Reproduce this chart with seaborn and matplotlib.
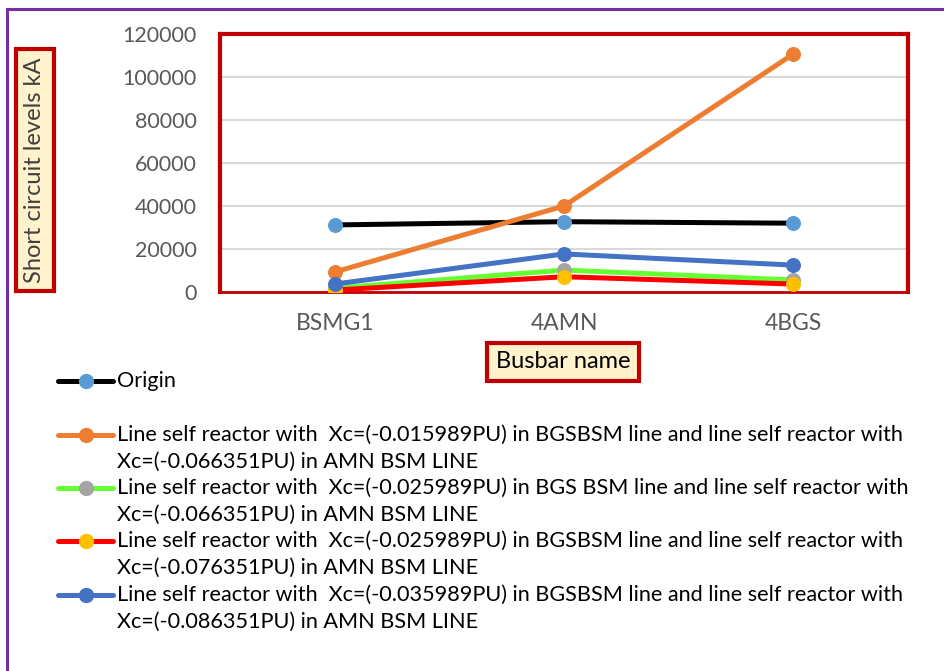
import numpy as np
import pandas as pd
import matplotlib
matplotlib.use("Agg")
import matplotlib.pyplot as plt
from matplotlib.lines import Line2D
from matplotlib.patches import Rectangle
import seaborn as sns

# ---- data -------------------------------------------------------------
busbars = ["BSMG1", "4AMN", "4BGS"]

origin = [31200, 32700, 32000]
case_1 = [9300, 40000, 110700]
case_2 = [1800, 10200, 5600]
case_3 = [900, 7100, 3700]
case_4 = [3700, 17700, 12500]

labels = [
    ["Origin"],
    ["Line self reactor with  Xc=(-0.015989PU) in BGSBSM line and line self reactor with",
     "Xc=(-0.066351PU) in AMN BSM LINE"],
    ["Line self reactor with  Xc=(-0.025989PU) in BGS BSM line and line self reactor with",
     "Xc=(-0.066351PU) in AMN BSM LINE"],
    ["Line self reactor with  Xc=(-0.025989PU) in BGSBSM line and line self reactor with",
     "Xc=(-0.076351PU) in AMN BSM LINE"],
    ["Line self reactor with  Xc=(-0.035989PU) in BGSBSM line and line self reactor with",
     "Xc=(-0.086351PU) in AMN BSM LINE"],
]
series = [origin, case_1, case_2, case_3, case_4]

line_colors = ["#000000", "#ED7D31", "#66FF33", "#FF0000", "#4472C4"]
marker_colors = ["#5B9BD5", "#ED7D31", "#A5A5A5", "#FFC000", "#4472C4"]

# ---- figure -----------------------------------------------------------
sns.set_style("white")
plt.rcParams["font.family"] = ["Lato", "DejaVu Sans"]

W, H = 944, 671
fig = plt.figure(figsize=(W / 100, H / 100), dpi=100)
ax = fig.add_axes([220 / W, 1 - 292 / H, 688 / W, 258 / H])

for i, vals in enumerate(series):
    df = pd.DataFrame({"busbar": busbars, "value": vals})
    sns.lineplot(data=df, x="busbar", y="value", ax=ax, sort=False,
                 color=line_colors[i], linewidth=3.6, marker="o",
                 markersize=10, markerfacecolor=marker_colors[i],
                 markeredgecolor=marker_colors[i], zorder=3 + i)

ax.set_xlim(-0.5, 2.5)
ax.set_ylim(0, 120000)
ax.set_yticks(np.arange(0, 120001, 20000))
ax.grid(axis="y", color="#D9D9D9", linewidth=1.5)
ax.set_axisbelow(True)
ax.tick_params(axis="both", length=0, labelcolor="#595959")
ax.tick_params(axis="y", pad=17, labelsize=15.5)
ax.tick_params(axis="x", pad=15, labelsize=16.5)
for side, sp in ax.spines.items():
    sp.set_color("#C00000")
    sp.set_linewidth(3)
    sp.set_visible(True)
ax.spines["bottom"].set_linewidth(2)

box = dict(boxstyle="square,pad=0.35", facecolor="#FFF2CC",
           edgecolor="#C00000", linewidth=3)
ax.set_xlabel("")
ax.set_ylabel("")
fig.text(35 / W, 1 - 170 / H, "Short circuit levels kA", rotation=90,
         ha="center", va="center", fontsize=17, color="#404040", bbox=box)
fig.text(563 / W, 1 - 362 / H, "Busbar name", ha="center", va="center",
         fontsize=17, color="#000000", bbox=box)

# ---- legend (drawn below the plot, as in the source) ------------------
rows = [381, 435, 488, 541, 595]
line_gap = 27
for i, lab in enumerate(labels):
    y = 1 - rows[i] / H
    fig.add_artist(Line2D([58 / W, 113 / W], [y, y], transform=fig.transFigure,
                          color=line_colors[i], linewidth=3.6,
                          solid_capstyle="round"))
    fig.add_artist(Line2D([85.5 / W], [y], transform=fig.transFigure,
                          marker="o", markersize=10, linestyle="none",
                          markerfacecolor=marker_colors[i],
                          markeredgecolor=marker_colors[i]))
    for j, txt in enumerate(lab):
        fig.text(117 / W, 1 - (rows[i] + j * line_gap) / H, txt,
                 ha="left", va="center", fontsize=15.6, color="#000000")

# purple outer border
fig.add_artist(Rectangle((7 / W, -0.1), 1.2, 1 - 9 / H + 0.1,
                         transform=fig.transFigure, fill=False,
                         edgecolor="#7030A0", linewidth=2.2))

fig.savefig("out.png", dpi=100)
